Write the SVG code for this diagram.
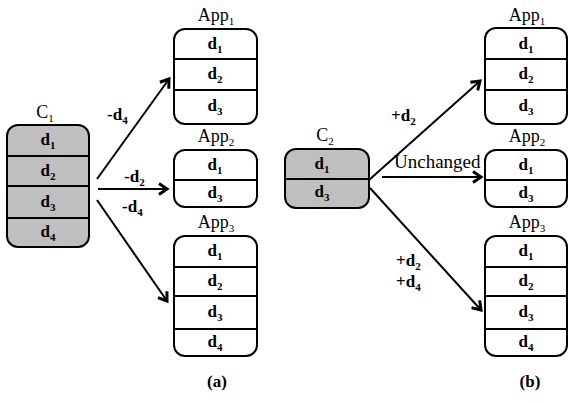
<svg xmlns="http://www.w3.org/2000/svg" width="571" height="402" viewBox="0 0 571 402">
<style>
.box{fill:#fff;stroke:#000;stroke-width:2}
.gbox{fill:#bfbfbf;stroke:#000;stroke-width:2}
.div{stroke:#000;stroke-width:2}
text{font-family:"Liberation Serif","Times New Roman",serif;fill:#000}
.d{font-size:17px;font-weight:bold;text-anchor:middle}
.lbl{font-size:18px;text-anchor:middle}
.cap{font-size:17px;font-weight:bold;text-anchor:middle}
.el{font-size:17px;font-weight:bold}
.un{font-size:19px}
.sub{font-size:11px}
.conn{stroke:#000;stroke-width:2;fill:none;marker-end:url(#ah)}
</style>
<defs>
<marker id="ah" viewBox="0 0 10 12" refX="9" refY="6" markerWidth="10" markerHeight="12" orient="auto" markerUnits="userSpaceOnUse" overflow="visible">
<path d="M1,0.5 L9,6 L1,11.5" fill="none" stroke="#000" stroke-width="3"/>
</marker>
</defs>
<g id="C1">
<text class="lbl" x="45" y="118">C<tspan class="sub" dy="4">1</tspan></text>
<rect class="gbox" x="7" y="125" width="82" height="122" rx="11"/>
<line class="div" x1="7" y1="156" x2="89" y2="156"/>
<line class="div" x1="7" y1="186" x2="89" y2="186"/>
<line class="div" x1="7" y1="218" x2="89" y2="218"/>
<text class="d" x="48" y="145">d<tspan class="sub" dy="4">1</tspan></text>
<text class="d" x="48" y="176">d<tspan class="sub" dy="4">2</tspan></text>
<text class="d" x="48" y="207">d<tspan class="sub" dy="4">3</tspan></text>
<text class="d" x="48" y="237">d<tspan class="sub" dy="4">4</tspan></text>
</g>
<g id="a_App1">
<text class="lbl" x="216" y="21">App<tspan class="sub" dy="4">1</tspan></text>
<rect class="box" x="174" y="29" width="83" height="95" rx="11"/>
<line class="div" x1="174" y1="59" x2="257" y2="59"/>
<line class="div" x1="174" y1="90" x2="257" y2="90"/>
<text class="d" x="215" y="49">d<tspan class="sub" dy="4">1</tspan></text>
<text class="d" x="215" y="79">d<tspan class="sub" dy="4">2</tspan></text>
<text class="d" x="215" y="111">d<tspan class="sub" dy="4">3</tspan></text>
</g>
<g id="a_App2">
<text class="lbl" x="216" y="142">App<tspan class="sub" dy="4">2</tspan></text>
<rect class="box" x="174" y="150" width="83" height="57" rx="11"/>
<line class="div" x1="174" y1="180" x2="257" y2="180"/>
<text class="d" x="215" y="170">d<tspan class="sub" dy="4">1</tspan></text>
<text class="d" x="215" y="198">d<tspan class="sub" dy="4">3</tspan></text>
</g>
<g id="a_App3">
<text class="lbl" x="216" y="228">App<tspan class="sub" dy="4">3</tspan></text>
<rect class="box" x="174" y="236" width="83" height="120" rx="11"/>
<line class="div" x1="174" y1="267" x2="257" y2="267"/>
<line class="div" x1="174" y1="296" x2="257" y2="296"/>
<line class="div" x1="174" y1="329" x2="257" y2="329"/>
<text class="d" x="215" y="256">d<tspan class="sub" dy="4">1</tspan></text>
<text class="d" x="215" y="286">d<tspan class="sub" dy="4">2</tspan></text>
<text class="d" x="215" y="317">d<tspan class="sub" dy="4">3</tspan></text>
<text class="d" x="215" y="347">d<tspan class="sub" dy="4">4</tspan></text>
</g>
<g id="C2">
<text class="lbl" x="325" y="141">C<tspan class="sub" dy="4">2</tspan></text>
<rect class="gbox" x="285" y="149" width="84" height="59" rx="11"/>
<line class="div" x1="285" y1="179" x2="369" y2="179"/>
<text class="d" x="322" y="169">d<tspan class="sub" dy="4">1</tspan></text>
<text class="d" x="322" y="197">d<tspan class="sub" dy="4">3</tspan></text>
</g>
<g id="b_App1">
<text class="lbl" x="527" y="21">App<tspan class="sub" dy="4">1</tspan></text>
<rect class="box" x="485" y="28" width="82" height="96" rx="11"/>
<line class="div" x1="485" y1="59" x2="567" y2="59"/>
<line class="div" x1="485" y1="90" x2="567" y2="90"/>
<text class="d" x="526" y="49">d<tspan class="sub" dy="4">1</tspan></text>
<text class="d" x="526" y="79">d<tspan class="sub" dy="4">2</tspan></text>
<text class="d" x="526" y="111">d<tspan class="sub" dy="4">3</tspan></text>
</g>
<g id="b_App2">
<text class="lbl" x="527" y="142">App<tspan class="sub" dy="4">2</tspan></text>
<rect class="box" x="485" y="150" width="82" height="57" rx="11"/>
<line class="div" x1="485" y1="180" x2="567" y2="180"/>
<text class="d" x="526" y="170">d<tspan class="sub" dy="4">1</tspan></text>
<text class="d" x="526" y="198">d<tspan class="sub" dy="4">3</tspan></text>
</g>
<g id="b_App3">
<text class="lbl" x="527" y="228">App<tspan class="sub" dy="4">3</tspan></text>
<rect class="box" x="485" y="236" width="82" height="120" rx="11"/>
<line class="div" x1="485" y1="267" x2="567" y2="267"/>
<line class="div" x1="485" y1="296" x2="567" y2="296"/>
<line class="div" x1="485" y1="329" x2="567" y2="329"/>
<text class="d" x="526" y="256">d<tspan class="sub" dy="4">1</tspan></text>
<text class="d" x="526" y="286">d<tspan class="sub" dy="4">2</tspan></text>
<text class="d" x="526" y="317">d<tspan class="sub" dy="4">3</tspan></text>
<text class="d" x="526" y="347">d<tspan class="sub" dy="4">4</tspan></text>
</g>
<g id="connectors">
<line class="conn" x1="97" y1="179" x2="169" y2="79"/>
<line class="conn" x1="98" y1="189" x2="167" y2="189"/>
<line class="conn" x1="97" y1="200" x2="167" y2="301"/>
<line class="conn" x1="369" y1="180" x2="480" y2="81"/>
<line class="conn" x1="382" y1="177" x2="481" y2="177"/>
<line class="conn" x1="370" y1="188" x2="481" y2="310"/>
</g>
<g id="labels">
<text class="el" x="107" y="120">-d<tspan class="sub" dy="4">4</tspan></text>
<text class="el" x="124" y="182">-d<tspan class="sub" dy="4">2</tspan></text>
<text class="el" x="122" y="212">-d<tspan class="sub" dy="4">4</tspan></text>
<text class="el" x="391" y="121">+d<tspan class="sub" dy="4">2</tspan></text>
<text class="un" x="394" y="168">Unchanged</text>
<text class="el" x="396" y="266">+d<tspan class="sub" dy="4">2</tspan></text>
<text class="el" x="396" y="287">+d<tspan class="sub" dy="4">4</tspan></text>
<text class="cap" x="217" y="387">(a)</text>
<text class="cap" x="530" y="387">(b)</text>
</g>
</svg>
